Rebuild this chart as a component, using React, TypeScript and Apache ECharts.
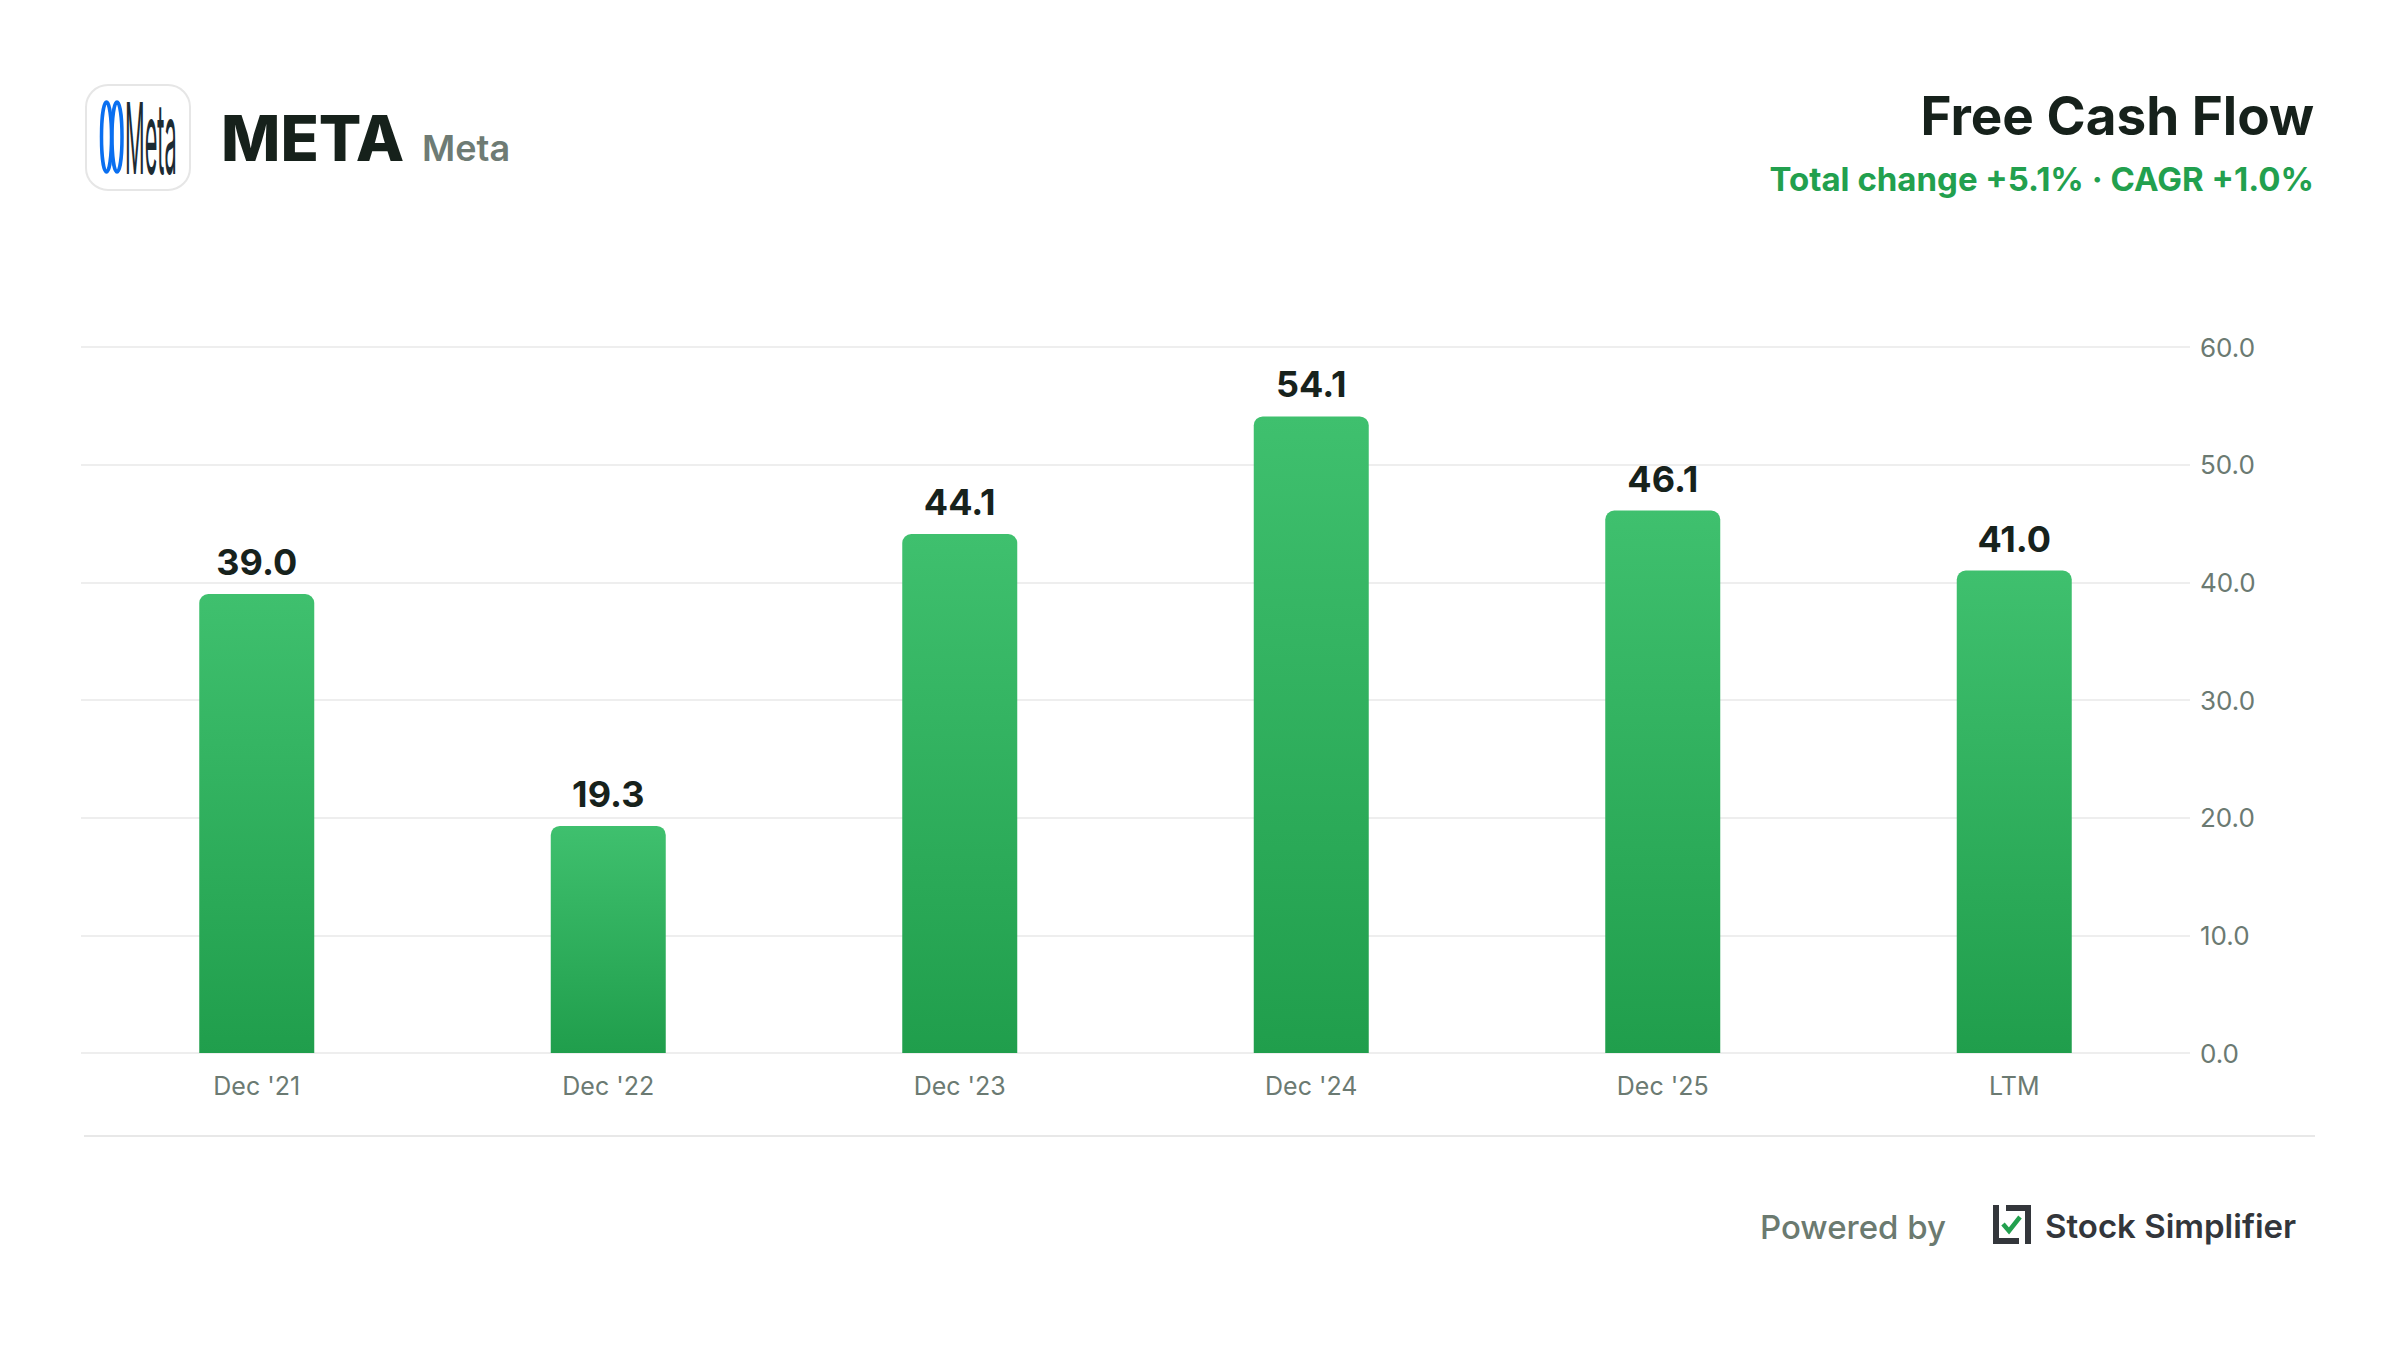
import React, { useEffect, useRef } from "react";
import * as echarts from "echarts";

const categories = ["Dec '21", "Dec '22", "Dec '23", "Dec '24", "Dec '25", "LTM"];
const fcfValues = [39.0, 19.3, 44.1, 54.1, 46.1, 41.0];
const yTicks = { min: 0, max: 60, interval: 10 };
const ticker = "META";
const companyName = "Meta";
const chartTitle = "Free Cash Flow";
const subtitle = "Total change +5.1% · CAGR +1.0%";

const FONT = "Inter, 'Noto Sans', sans-serif";

export default function App() {
  const ref = useRef<HTMLDivElement>(null);
  useEffect(() => {
    if (!ref.current) return;
    const chart = echarts.init(ref.current, null, { renderer: "svg" });
    const option: any = {
      animation: false,
      backgroundColor: "#ffffff",
      grid: { left: 81, right: 210, top: 347, bottom: 297, containLabel: false },
      xAxis: {
        type: "category",
        data: categories,
        axisLine: { show: false },
        axisTick: { show: false },
        axisLabel: {
          color: "#6b7a72",
          fontSize: 25,
          fontFamily: FONT,
          margin: 20,
        },
      },
      yAxis: {
        type: "value",
        position: "right",
        min: yTicks.min,
        max: yTicks.max,
        interval: yTicks.interval,
        axisLine: { show: false },
        axisTick: { show: false },
        splitLine: { lineStyle: { color: "#e8e8e8", width: 1.5 } },
        axisLabel: {
          color: "#6b7a72",
          fontSize: 26,
          fontFamily: FONT,
          margin: 10,
          formatter: (v: number) => v.toFixed(1),
        },
      },
      series: [
        {
          type: "bar",
          data: fcfValues,
          barWidth: 115,
          itemStyle: {
            borderRadius: [9, 9, 0, 0],
            color: new echarts.graphic.LinearGradient(0, 0, 0, 1, [
              { offset: 0, color: "#3fc06e" },
              { offset: 1, color: "#209e4c" },
            ]),
          },
          label: {
            show: true,
            position: "top",
            distance: 14,
            color: "#17221c",
            fontSize: 36,
            fontWeight: 700,
            fontFamily: FONT,
            formatter: (p: any) => Number(p.value).toFixed(1),
          },
        },
      ],
      graphic: [
        // company logo box
        {
          type: "rect",
          shape: { x: 86, y: 85, width: 104, height: 105, r: 22 },
          style: { fill: "#ffffff", stroke: "#e6e6e6", lineWidth: 2 },
        },
        {
          type: "ellipse",
          shape: { cx: 106.5, cy: 137, rx: 5, ry: 35 },
          style: { fill: "none", stroke: "#0a6ff0", lineWidth: 3.5 },
        },
        {
          type: "ellipse",
          shape: { cx: 117, cy: 137, rx: 5, ry: 35 },
          style: { fill: "none", stroke: "#0a6ff0", lineWidth: 3.5 },
        },
        {
          type: "text",
          x: 125,
          y: 138,
          scaleX: 0.22,
          style: {
            text: "Meta",
            fill: "#1c2b33",
            fontSize: 99,
            fontWeight: 400,
            fontFamily: FONT,
            align: "left",
            verticalAlign: "middle",
          },
        },
        // ticker and name
        {
          type: "text",
          x: 221,
          y: 138,
          style: {
            text: ticker,
            fill: "#16211b",
            fontSize: 63,
            fontWeight: 800,
            fontFamily: FONT,
            align: "left",
            verticalAlign: "middle",
          },
        },
        {
          type: "text",
          x: 422,
          y: 148,
          style: {
            text: companyName,
            fill: "#6e7b74",
            fontSize: 36,
            fontWeight: 600,
            fontFamily: FONT,
            align: "left",
            verticalAlign: "middle",
          },
        },
        // title
        {
          type: "text",
          x: 2314,
          y: 116,
          style: {
            text: chartTitle,
            fill: "#16211b",
            fontSize: 53,
            fontWeight: 700,
            fontFamily: FONT,
            align: "right",
            verticalAlign: "middle",
          },
        },
        {
          type: "text",
          x: 2314,
          y: 179,
          style: {
            text: subtitle,
            fill: "#22a04e",
            fontSize: 33,
            fontWeight: 700,
            fontFamily: FONT,
            align: "right",
            verticalAlign: "middle",
          },
        },
        // separator
        {
          type: "line",
          shape: { x1: 84, y1: 1136, x2: 2315, y2: 1136 },
          style: { stroke: "#e8e8e8", lineWidth: 2 },
        },
        // footer
        {
          type: "text",
          x: 1946,
          y: 1227,
          style: {
            text: "Powered by",
            fill: "#6b7a70",
            fontSize: 33,
            fontWeight: 500,
            fontFamily: FONT,
            align: "right",
            verticalAlign: "middle",
          },
        },
        {
          type: "polyline",
          shape: { points: [[1996, 1205], [1996, 1241], [2019, 1241]] },
          style: { fill: "none", stroke: "#33363b", lineWidth: 6 },
        },
        {
          type: "polyline",
          shape: { points: [[2006, 1208], [2028, 1208], [2028, 1244]] },
          style: { fill: "none", stroke: "#33363b", lineWidth: 6 },
        },
        {
          type: "polyline",
          shape: { points: [[2003, 1224], [2009, 1231], [2020, 1217]] },
          style: { fill: "none", stroke: "#22a04e", lineWidth: 4.5 },
        },
        {
          type: "text",
          x: 2045,
          y: 1226,
          style: {
            text: "Stock Simplifier",
            fill: "#33363b",
            fontSize: 33,
            fontWeight: 600,
            fontFamily: FONT,
            align: "left",
            verticalAlign: "middle",
          },
        },
      ],
    };
    chart.setOption(option);
    return () => chart.dispose();
  }, []);
  return (
    <div
      ref={ref}
      style={{ position: "fixed", left: 0, top: 0, width: 2400, height: 1350, background: "#fff" }}
    />
  );
}
